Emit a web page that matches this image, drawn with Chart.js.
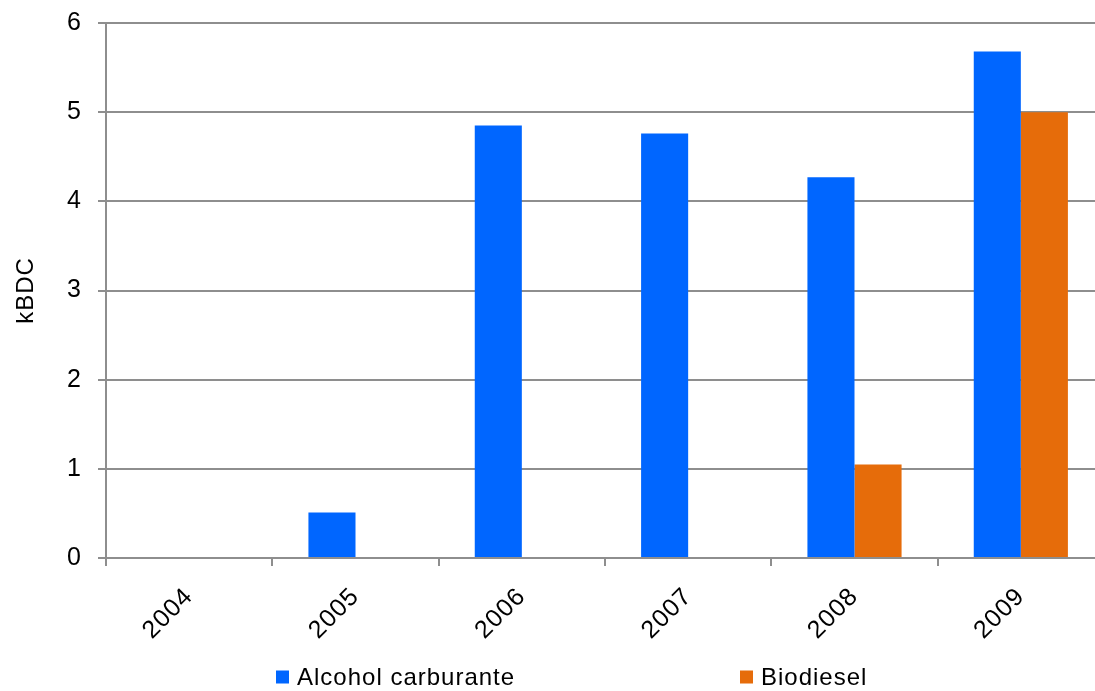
<!DOCTYPE html>
<html>
<head>
<meta charset="utf-8">
<script src="https://cdn.jsdelivr.net/npm/chart.js@4/dist/chart.umd.min.js"></script>
<style>
  html, body { margin: 0; padding: 0; background: #fff; overflow: hidden; }
  #wrap { width: 1095px; height: 691px; overflow: hidden; position: relative; }
  #box { width: 1104px; height: 691px; position: absolute; left: 0; top: 0; }
</style>
</head>
<body>
<div id="wrap"><div id="box"><canvas id="c"></canvas></div></div>
<script>
const categories = ['2004', '2005', '2006', '2007', '2008', '2009'];
const alcoholValues = [0, 0.51, 4.85, 4.76, 4.27, 5.68];
const biodieselValues = [0, 0, 0, 0, 1.05, 5.0];
const seriesNames = ['Alcohol carburante', 'Biodiesel'];
const yTicks = [0, 1, 2, 3, 4, 5, 6];
const yTitle = 'kBDC';

const FONT = "'Liberation Sans', Arial, sans-serif";
const GRID = '#8e8e8e';

const legendPos = [{ x: 276, y: 677 }, { x: 740, y: 677 }];

const customLegend = {
  id: 'customLegend',
  beforeDraw(chart) {
    try { chart.ctx.letterSpacing = '1px'; } catch (e) {}
  },
  afterDraw(chart) {
    const ctx = chart.ctx;
    ctx.save();
    chart.data.datasets.forEach((ds, i) => {
      const p = legendPos[i];
      ctx.fillStyle = ds.backgroundColor;
      ctx.fillRect(p.x, p.y - 6.5, 13, 13);
      ctx.fillStyle = '#000';
      ctx.font = '24px ' + FONT;
      ctx.textAlign = 'left';
      ctx.textBaseline = 'middle';
      ctx.fillText(ds.label, p.x + 21, p.y + 1);
    });
    ctx.restore();
  }
};

new Chart(document.getElementById('c'), {
  type: 'bar',
  data: {
    labels: categories,
    datasets: [
      { label: seriesNames[0], data: alcoholValues, backgroundColor: '#0066FF', borderWidth: 0 },
      { label: seriesNames[1], data: biodieselValues, backgroundColor: '#E66C0A', borderWidth: 0 }
    ]
  },
  options: {
    responsive: true,
    maintainAspectRatio: false,
    animation: false,
    layout: { padding: { left: 0, right: 0, top: 23, bottom: 0 } },
    datasets: { bar: { barPercentage: 1.0, categoryPercentage: 0.566 } },
    plugins: {
      legend: { display: false },
      tooltip: { enabled: false }
    },
    scales: {
      x: {
        offset: true,
        grid: { drawOnChartArea: false, drawTicks: true, tickLength: 8, color: GRID, lineWidth: 2, offset: true },
        border: { display: true, color: GRID, width: 2 },
        ticks: {
          color: '#000', font: { family: FONT, size: 25 },
          maxRotation: 45, minRotation: 45, padding: 16, autoSkip: false
        },
        afterFit(scale) { scale.height = 133; scale.paddingLeft = 0; scale.paddingRight = 0; }
      },
      y: {
        min: 0, max: 6,
        afterBuildTicks(scale) { scale.ticks = yTicks.map(v => ({ value: v })); },
        grid: { color: GRID, lineWidth: 2, drawTicks: true, tickLength: 8 },
        border: { display: true, color: GRID, width: 2 },
        ticks: { color: '#000', font: { family: FONT, size: 25 }, padding: 16 },
        title: { display: true, text: yTitle, color: '#000', font: { family: FONT, size: 24 }, padding: { top: 12, bottom: 0 } },
        afterFit(scale) { scale.width = 106; scale.paddingTop = 0; scale.paddingBottom = 0; }
      }
    }
  },
  plugins: [customLegend]
});
</script>
</body>
</html>
